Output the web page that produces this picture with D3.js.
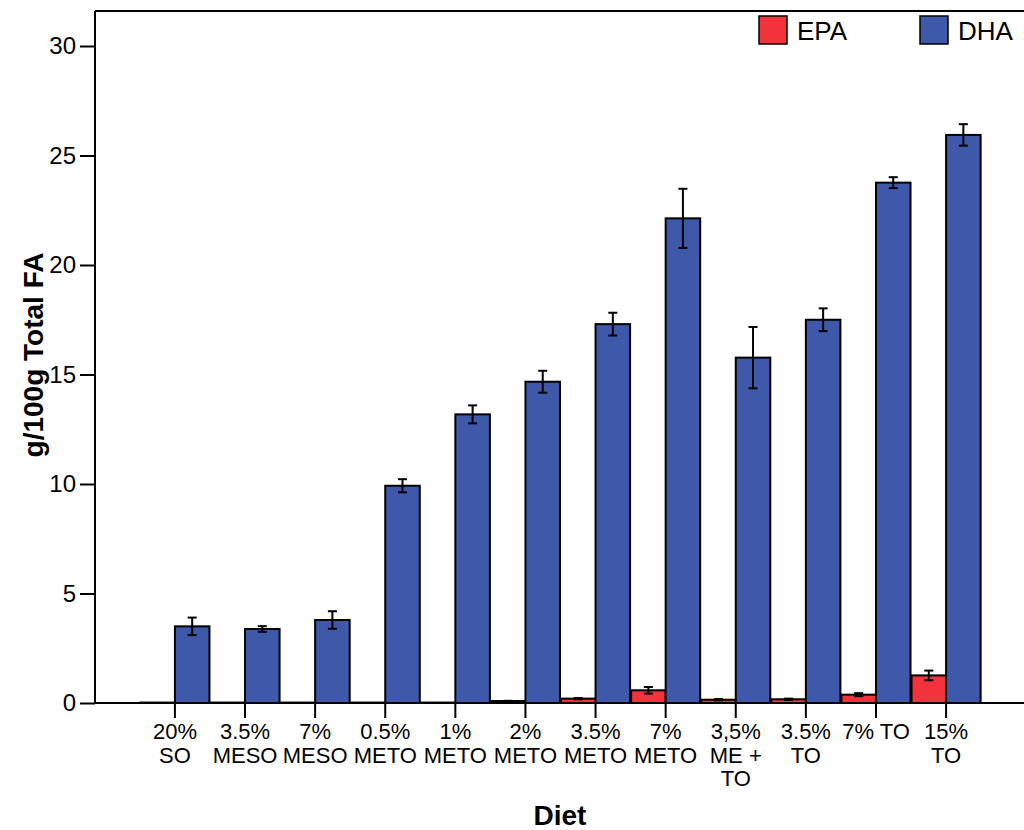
<!DOCTYPE html>
<html>
<head>
<meta charset="utf-8">
<script src="https://cdn.jsdelivr.net/npm/d3@7"></script>
<style>
  html, body { margin: 0; padding: 0; background: #fff; }
  svg { display: block; font-family: "Liberation Sans", Arial, sans-serif; }
</style>
</head>
<body>
<svg id="chart" width="1024" height="830"></svg>
<script>
// Diet groups (multi-line labels split on "|")
const diets = ["20%|SO", "3.5%|MESO", "7%|MESO", "0.5%|METO", "1%|METO", "2%|METO",
               "3.5%|METO", "7%|METO", "3,5%|ME +|TO", "3.5%|TO", "7% TO", "15%|TO"];
const series = ["EPA", "DHA"];
const epaMean = [0.02, 0.02, 0.02, 0.02, 0.02, 0.09, 0.20, 0.58, 0.15, 0.17, 0.38, 1.26];
const epaErr  = [0.00, 0.00, 0.00, 0.00, 0.00, 0.01, 0.03, 0.15, 0.03, 0.03, 0.07, 0.22];
const dhaMean = [3.50, 3.38, 3.79, 9.92, 13.18, 14.67, 17.30, 22.13, 15.77, 17.50, 23.76, 25.94];
const dhaErr  = [0.40, 0.13, 0.40, 0.30, 0.41, 0.50, 0.52, 1.35, 1.40, 0.52, 0.25, 0.49];
const yTicks = [0, 5, 10, 15, 20, 25, 30];
const colors = { EPA: "#f2333b", DHA: "#3e58aa" };

const rows = diets.map((d, i) => ({
  diet: d,
  values: [
    { key: "EPA", mean: epaMean[i], err: epaErr[i] },
    { key: "DHA", mean: dhaMean[i], err: dhaErr[i] }
  ]
}));

const svg = d3.select("#chart");
const plotLeft = 95, plotTop = 11, plotRight = 1026, plotBottom = 703;

const x = d3.scaleBand().domain(diets).range([plotLeft, plotRight]).paddingInner(0).paddingOuter(0.64);
const xs = d3.scaleBand().domain(series).range([0, x.bandwidth()]).paddingInner(0).paddingOuter(0.015);
const y = d3.scaleLinear().domain([0, 30]).range([plotBottom, 46]);

// frame lines (left and top)
svg.append("line").attr("x1", plotLeft).attr("x2", plotLeft).attr("y1", plotTop).attr("y2", plotBottom)
  .attr("stroke", "#000").attr("stroke-width", 2);
svg.append("line").attr("x1", plotLeft).attr("x2", 1024).attr("y1", plotTop).attr("y2", plotTop)
  .attr("stroke", "#000").attr("stroke-width", 2);

// bars
const groups = svg.append("g").selectAll("g").data(rows).join("g")
  .attr("transform", d => `translate(${x(d.diet)},0)`);

groups.selectAll("rect").data(d => d.values).join("rect")
  .attr("x", d => xs(d.key))
  .attr("width", xs.bandwidth())
  .attr("y", d => y(d.mean))
  .attr("height", d => y(0) - y(d.mean))
  .attr("fill", d => colors[d.key])
  .attr("stroke", "#000")
  .attr("stroke-width", 2);

// error bars
const eb = groups.selectAll("g.err").data(d => d.values.filter(v => v.err > 0)).join("g").attr("class", "err")
  .attr("transform", d => `translate(${xs(d.key) + xs.bandwidth() / 2},0)`);
eb.append("line").attr("x1", 0).attr("x2", 0)
  .attr("y1", d => y(d.mean + d.err)).attr("y2", d => y(d.mean - d.err))
  .attr("stroke", "#000").attr("stroke-width", 2);
eb.append("line").attr("x1", -4.5).attr("x2", 4.5)
  .attr("y1", d => y(d.mean + d.err)).attr("y2", d => y(d.mean + d.err))
  .attr("stroke", "#000").attr("stroke-width", 2);
eb.append("line").attr("x1", -4.5).attr("x2", 4.5)
  .attr("y1", d => y(d.mean - d.err)).attr("y2", d => y(d.mean - d.err))
  .attr("stroke", "#000").attr("stroke-width", 2);

// y axis
const yAxis = svg.append("g").attr("transform", `translate(${plotLeft},0)`)
  .call(d3.axisLeft(y).tickValues(yTicks).tickSize(15).tickPadding(4).tickFormat(d3.format("d")));
yAxis.select(".domain").remove();
yAxis.selectAll(".tick line").attr("stroke", "#000").attr("stroke-width", 2);
yAxis.selectAll(".tick text").attr("font-size", 24).attr("fill", "#000")
  .attr("font-family", "Liberation Sans, Arial, sans-serif");

// x axis
const xAxis = svg.append("g").attr("transform", `translate(0,${plotBottom})`)
  .call(d3.axisBottom(x).tickSize(15).tickFormat(""));
xAxis.select(".domain").attr("d", `M${plotLeft},0H1024`).attr("stroke", "#000").attr("stroke-width", 2);
xAxis.selectAll(".tick line").attr("stroke", "#000").attr("stroke-width", 2);
xAxis.selectAll(".tick").each(function(d) {
  const t = d3.select(this).append("text")
    .attr("text-anchor", "middle").attr("fill", "#000")
    .attr("font-size", 22).attr("font-family", "Liberation Sans, Arial, sans-serif");
  d.split("|").forEach((line, i) => {
    t.append("tspan").attr("x", 0).attr("y", 36 + i * 23.5).text(line);
  });
});

// axis titles
svg.append("text")
  .attr("transform", "translate(43,355) rotate(-90)")
  .attr("text-anchor", "middle").attr("font-size", 28).attr("font-weight", "bold")
  .text("g/100g Total FA");
svg.append("text")
  .attr("x", 560).attr("y", 825)
  .attr("text-anchor", "middle").attr("font-size", 28).attr("font-weight", "bold")
  .text("Diet");

// legend
const legendX = { EPA: 759, DHA: 920 };
const legend = svg.append("g").selectAll("g").data(series).join("g")
  .attr("transform", d => `translate(${legendX[d]},16)`);
legend.append("rect").attr("width", 28).attr("height", 28)
  .attr("fill", d => colors[d]).attr("stroke", "#000").attr("stroke-width", 1.5);
legend.append("text").attr("x", 38).attr("y", 24).attr("font-size", 26).text(d => d);
</script>
</body>
</html>
